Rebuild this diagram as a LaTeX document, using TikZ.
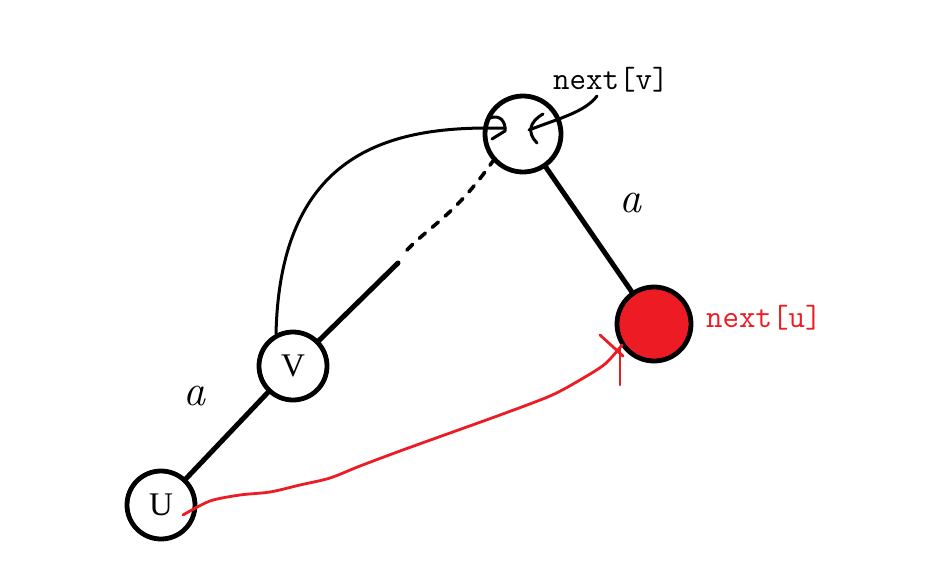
\documentclass[tikz,border=0pt]{standalone}
\usepackage{fontspec}
\newfontfamily\lblfont{Liberation Serif}
\begin{document}
\begin{tikzpicture}[x=1pt,y=-1pt,
  vertex/.style={circle,draw=black,line width=4.8pt,fill=white,inner sep=0pt},
  edge/.style={line width=5pt,line cap=round},
  hand/.style={line width=3pt,line cap=round,line join=round},
  redhand/.style={line width=2.8pt,line cap=round,line join=round,draw={rgb,255:red,237;green,28;blue,36}},
  letter/.style={font=\lblfont\fontsize{33}{33}\selectfont,inner sep=0pt},
  tag/.style={font=\ttfamily\fontsize{32}{32}\selectfont,inner sep=0pt},
  aletter/.style={font=\itshape\fontsize{44}{44}\selectfont,inner sep=0pt}]
\definecolor{myred}{RGB}{237,28,36}
\useasboundingbox (0,0) rectangle (943,571);
\fill[white] (0,0) rectangle (943,571);

\coordinate (solidEnd) at (398,263);
\coordinate (dashStart) at (407,250);
\coordinate (curveStart) at (276,334);
\coordinate (curveEnd) at (488,128);
\coordinate (ptrStart) at (597,96);
\coordinate (ptrEnd) at (529,130);
\coordinate (redStart) at (183,515);
\coordinate (redEnd) at (622,345);
\coordinate (crossA) at (600,335);
\coordinate (crossB) at (620,385);

\node[vertex,minimum size=68pt] (U) at (161,505) {};
\node[vertex,minimum size=68pt] (V) at (293,366) {};
\node[vertex,minimum size=76pt] (W) at (523,134) {};
\node[vertex,minimum size=74pt,fill=myred] (R) at (654,324) {};

\draw[edge] (U) -- (V);
\draw[edge] (V) -- (solidEnd);
\draw[hand,line width=3.6pt,dash pattern=on 8pt off 9pt] (dashStart) .. controls (430,226) and (455,215) .. (W.222);
\draw[edge] (W) -- (R);

% curved link from V to next[v]
\draw[hand] (curveStart) .. controls (280,160) and (380,128) .. (curveEnd) -- (505,128);
\draw[hand] (490,118) .. controls (500,114) and (506,122) .. (505,131) -- (492,139);

% pointer from label next[v]
\draw[hand] (ptrStart) .. controls (585,112) and (560,118) .. (ptrEnd);
\draw[hand] (543,114) .. controls (529,122) and (527,133) .. (537,143);

% red arrow from U to next[u]
\draw[redhand] plot[smooth,tension=0.5] coordinates {(redStart) (210,501) (240,495) (270,492) (300,485) (330,478) (360,466) (400,451) (450,433) (500,415) (550,396) (580,380) (605,364) (redEnd)};
\draw[redhand] (crossA) -- (623,356);
\draw[redhand] (620,347) -- (crossB);

% labels
\node[letter] at (U) {U};
\node[letter] at (V) {V};
\node[tag,anchor=west] (lv) at (553,80) {next[v]};
\node[tag,anchor=west,text=myred] (lu) at (706,318) {next[u]};
\node[aletter] (a1) at (194,396) {a};
\node[aletter] (a2) at (630,203) {a};
\end{tikzpicture}
\end{document}
